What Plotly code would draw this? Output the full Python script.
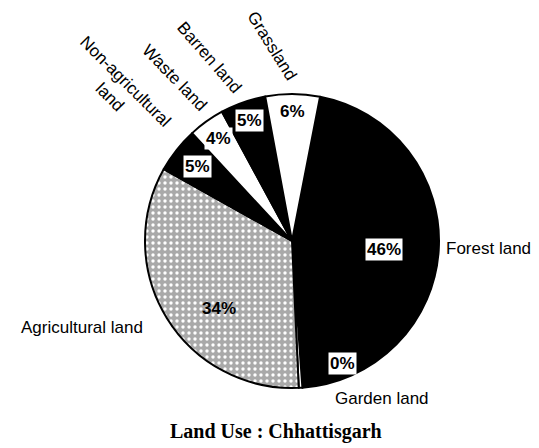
import math
import plotly.graph_objects as go

# ---- data ----
categories = ["Forest land", "Garden land", "Agricultural land", "Non-agricultural land",
              "Waste land", "Barren land", "Grassland"]
values = [46, 0.4, 34, 5, 4, 5, 6]
pct_labels = ["46%", "0%", "34%", "5%", "4%", "5%", "6%"]
title_text = "Land Use : Chhattisgarh"

# ---- styling ----
W, H = 539, 448
CX, CY, R = 292, 241, 147
ROT = 11
colors = ["black", "white", "#a9a9a9", "black", "white", "black", "white"]
label_r = [0.63, 0.90, 0.68, 0.82, 0.86, 0.87, 0.88]
label_shift = [2, -19, -11, 0, 0, 0, 0]   # angular nudge (degrees) for label placement
label_bg = ["white", "white", "rgba(0,0,0,0)", "white", "white", "white", "white"]

fig = go.Figure(go.Pie(
    labels=categories,
    values=values,
    sort=False,
    direction="clockwise",
    rotation=ROT,
    textinfo="none",
    hoverinfo="label+percent",
    showlegend=False,
    marker=dict(
        colors=colors,
        line=dict(color="black", width=2),
        pattern=dict(shape=["", "", ".", "", "", "", ""],
                     fgcolor="white", bgcolor="#a9a9a9", size=6, solidity=0.25),
    ),
    domain=dict(x=[(CX - R) / W, (CX + R) / W], y=[(H - CY - R) / H, (H - CY + R) / H]),
))

ann = []
# percentage labels placed at each slice's mid-angle (derived from values)
total = sum(values)
start = ROT
for v, t, fr, sh, bg in zip(values, pct_labels, label_r, label_shift, label_bg):
    span = v / total * 360
    mid = math.radians(start + span / 2 + sh)
    start += span
    px = CX + fr * R * math.sin(mid)
    py = CY - fr * R * math.cos(mid)
    ann.append(dict(x=px / W, y=1 - py / H, xref="paper", yref="paper", text=t,
                    xanchor="center", yanchor="middle",
                    showarrow=False, bgcolor=bg, borderpad=1,
                    font=dict(family="Liberation Sans", size=17, color="black", weight="bold")))

lab_font = dict(family="Liberation Sans", size=17, color="black")
outer = [
    ("Forest land", 488, 248, 0),
    ("Agricultural land", 82, 327, 0),
    ("Garden land", 382, 398, 0),
    ("Grassland", 272, 45, 58),
    ("Barren land", 209, 58, 49),
    ("Waste land", 174, 78, 46),
    ("Non-agricultural<br>land", 118, 89, 45),
]
for t, px, py, ang in outer:
    ann.append(dict(x=px / W, y=1 - py / H, xref="paper", yref="paper", text=t,
                    xanchor="center", yanchor="middle",
                    showarrow=False, textangle=ang, font=lab_font))

ann.append(dict(x=276 / W, y=1 - 431 / H, xref="paper", yref="paper", text=title_text,
                xanchor="center", yanchor="middle", showarrow=False,
                font=dict(family="Liberation Serif", size=20, color="black", weight="bold")))

fig.update_layout(width=W, height=H, margin=dict(l=0, r=0, t=0, b=0),
                  paper_bgcolor="white", plot_bgcolor="white", annotations=ann)
fig.write_html("out.html", config={"displayModeBar": False},
               post_script="document.body.style.margin='0';document.body.style.overflow='hidden';")
